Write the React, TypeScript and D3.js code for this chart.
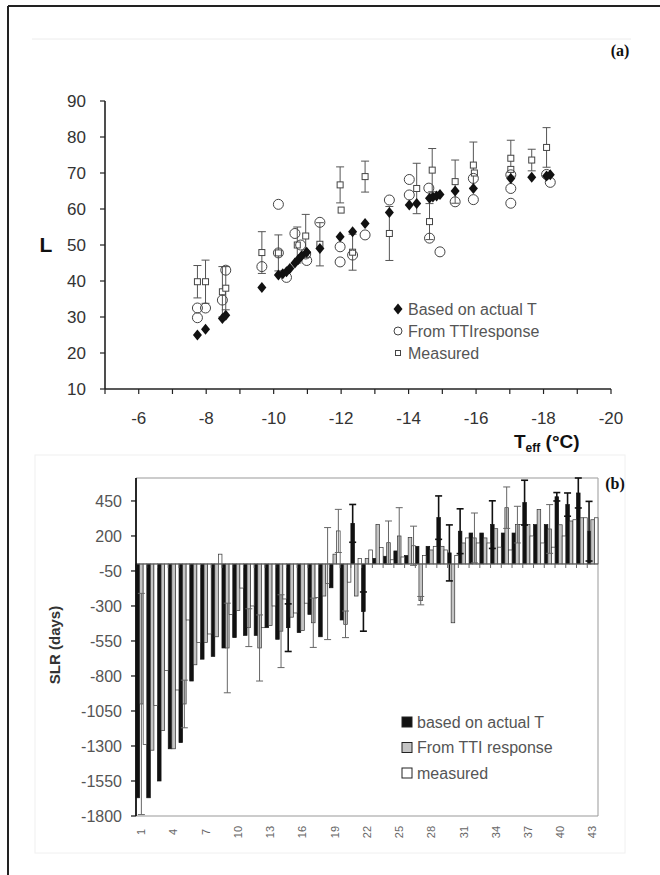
import React from 'react';
import * as d3 from 'd3';

// ---------- Panel (a) data ----------
const tempTicks = [-6, -8, -10, -12, -14, -16, -18, -20];
const lTicks = [10, 20, 30, 40, 50, 60, 70, 80, 90];

// [T_eff, L]
const actualT: [number, number][] = [
  [-7.74, 25], [-7.98, 26.6], [-8.48, 29.6], [-8.58, 30.5], [-9.65, 38.2], [-10.14, 41.7],
  [-10.27, 42], [-10.38, 42.6], [-10.48, 43.5], [-10.63, 45], [-10.73, 46], [-10.83, 47],
  [-10.98, 48], [-11.37, 49], [-11.97, 52.3], [-12.34, 53.7], [-12.71, 56], [-13.43, 59],
  [-14.02, 61.1], [-14.24, 61.5], [-14.62, 63], [-14.72, 63.3], [-14.83, 63.6], [-14.93, 64],
  [-15.38, 65], [-15.92, 65.7], [-17.03, 68.5], [-17.65, 68.8], [-18.09, 69.2], [-18.2, 69.5],
];

// [T_eff, L]
const ttiResp: [number, number][] = [
  [-7.74, 32.5], [-7.74, 29.8], [-7.98, 32.5], [-8.48, 34.7], [-8.58, 43], [-9.65, 44],
  [-10.14, 61.3], [-10.14, 47.8], [-10.38, 41], [-10.63, 53.2], [-10.8, 50], [-10.95, 47.5],
  [-10.98, 45.7], [-11.37, 56.3], [-11.97, 49.5], [-11.97, 45.3], [-12.34, 47.2], [-12.71, 52.8],
  [-13.43, 62.5], [-14.02, 68.2], [-14.02, 63.9], [-14.62, 51.9], [-14.93, 48.1], [-14.6, 65.8],
  [-15.38, 62], [-15.92, 68.5], [-15.92, 62.6], [-17.03, 65.7], [-17.03, 61.6], [-17.03, 69.5],
  [-18.09, 69.6], [-18.2, 67.4],
];

// [T_eff, L, error]
const measured: [number, number, number][] = [
  [-7.74, 39.8, 4.5], [-7.98, 39.8, 6], [-8.48, 37, 7], [-8.58, 38, 6], [-9.65, 47.9, 5.8],
  [-10.14, 47.8, 5], [-10.7, 50, 5], [-10.95, 52.5, 6], [-11.37, 50.2, 6], [-11.97, 66.7, 5],
  [-12.0, 59.7, 0], [-12.34, 48, 5], [-12.71, 69, 4.3], [-13.43, 53.2, 7.5], [-14.24, 65.7, 7],
  [-14.7, 70.8, 6], [-14.62, 56.5, 5], [-15.38, 67.6, 6], [-15.92, 72.2, 6.4], [-15.95, 70, 0],
  [-17.03, 74.1, 5], [-17.03, 71, 0], [-17.65, 73.6, 3], [-18.09, 77.1, 5.5],
];

const legendA = ['Based on actual T', 'From TTIresponse', 'Measured'];

// ---------- Panel (b) data ----------
const slrCategories = [
  '1', '2', '3', '4', '5', '6', '7', '8', '9', '10', '11', '12', '13', '14', '15', '16', '17', '18',
  '19', '20', '21', '22', '23', '24', '25', '26', '27', '28', '29', '30', '31', '32', '33', '34',
  '35', '36', '37', '38', '39', '40', '41', '42', '43',
];
const slrTickLabels = ['1', '4', '7', '10', '13', '16', '19', '22', '25', '28', '31', '34', '37', '40', '43'];
const slrTicks = [450, 200, -50, -300, -550, -800, -1050, -1300, -1550, -1800];

const slrActual = [
  -1670, -1670, -1550, -1320, -1276, -836, -680, -660, -600, -526, -510, -510, -455, -538, -455,
  -490, -360, -520, -170, -400, 290, -340, 40, 55, 93, 60, 126, 126, 331, 79, 234, 221, 221, 281,
  221, 221, 438, 281, 281, 480, 424, 507, 234,
];
const slrTti = [
  -1000, -1330, -1190, -1320, -1000, -720, -560, -520, -600, -333, -455, -600, -440, -480, -380,
  -476, -420, -229, 70, -431, -229, 40, 283, 152, 200, 190, -262, 100, 126, -420, 150, 186, 186,
  252, 402, 281, 281, 390, 250, 280, 307, 330, 316,
];
const slrMeasured = [
  -1290, -1010, -760, -900, -400, -560, -500, 70, -360, -172, -300, -455, -300, -250, -350, -280,
  -240, -140, 236, -130, 40, 100, 117, 30, 50, 130, 60, 126, 100, 60, 186, 150, 150, 120, 100, 281,
  200, 150, 120, 200, 316, 330, 330,
];
const errActual = [
  0, 0, 0, 0, 0, 0, 0, 0, 0, 0, 0, 0, 0, 0, 170, 0, 0, 0, 0, 0, 135, 140, 0, 0, 0, 0, 0, 0, 155,
  200, 160, 0, 0, 170, 0, 0, 160, 0, 0, 30, 83, 107, 213,
];
const errTti = [
  790, 0, 0, 0, 170, 0, 0, 0, 320, 0, 135, 236, 0, 260, 0, 0, 176, 0, 0, 95, 0, 0, 0, 155, 202, 0,
  30, 0, 0, 0, 0, 178, 0, 0, 148, 131, 0, 0, 174, 0, 0, 0, 0,
];
const errMeasured = [
  0, 0, 0, 0, 0, 0, 0, 0, 0, 0, 0, 0, 0, 0, 0, 0, 0, 400, 154, 0, 0, 0, 0, 0, 0, 140, 0, 0, 0, 0,
  0, 0, 0, 0, 0, 0, 0, 0, 0, 0, 0, 0, 0,
];
const legendB = ['based on actual T', 'From TTI response', 'measured'];

const FONT = 'Liberation Sans, Arial, sans-serif';

export default function App() {
  // ----- scales panel (a)
  const xA = d3.scaleLinear().domain([-5, -20]).range([105, 611]);
  const yA = d3.scaleLinear().domain([10, 90]).range([389, 101]);
  const minor = d3.range(-5, -20.5, -1);

  // ----- scales panel (b)
  const xB = d3.scaleBand<string>().domain(slrCategories).range([136, 598]).padding(0);
  const sub = d3.scaleBand<string>().domain(['a', 't', 'm']).range([0, xB.bandwidth()]).padding(0);
  const yB = d3.scaleLinear().domain([-1800, 614]).range([816, 478]);
  const y0 = yB(0);

  const diamond = (x: number, y: number) =>
    `M${x},${y - 5.5}L${x + 4.5},${y}L${x},${y + 5.5}L${x - 4.5},${y}Z`;

  const seriesB = [
    { key: 'a', vals: slrActual, errs: errActual, fill: '#111', stroke: '#111', ec: '#111', ew: 1.6 },
    { key: 't', vals: slrTti, errs: errTti, fill: '#c4c4c4', stroke: '#333', ec: '#666', ew: 1 },
    { key: 'm', vals: slrMeasured, errs: errMeasured, fill: '#fff', stroke: '#333', ec: '#666', ew: 1 },
  ];

  return (
    <svg width={660} height={875} style={{ position: 'absolute', left: 0, top: 0, background: '#fff' }}
      fontFamily={FONT}>
      <rect x={0} y={0} width={660} height={875} fill="#fff" />
      {/* outer frame */}
      <line x1={8} y1={6} x2={660} y2={6} stroke="#222" strokeWidth={2} />
      <line x1={8} y1={6} x2={8} y2={875} stroke="#222" strokeWidth={2} />

      {/* ================= Panel (a) ================= */}
      <line x1={32} y1={39} x2={631} y2={39} stroke="#ececec" strokeWidth={1} />
      <text x={620} y={56} textAnchor="middle" fontFamily="Liberation Serif, Times New Roman, serif"
        fontWeight="bold" fontSize={16} fill="#111">(a)</text>

      {/* y axis */}
      <line x1={105} y1={yA(90)} x2={105} y2={yA(10)} stroke="#222" strokeWidth={1.6} />
      {lTicks.map((t) => (
        <g key={'ly' + t}>
          <line x1={100} x2={105} y1={yA(t)} y2={yA(t)} stroke="#222" strokeWidth={1.2} />
          <text x={86} y={yA(t)} dy="0.35em" textAnchor="end" fontSize={17} fill="#333">{t}</text>
        </g>
      ))}
      {/* x axis */}
      <line x1={xA(-5)} y1={yA(10)} x2={xA(-20)} y2={yA(10)} stroke="#222" strokeWidth={1.6} />
      {minor.map((t) => (
        <line key={'mx' + t} x1={xA(t)} x2={xA(t)} y1={yA(10)} y2={yA(10) + 5} stroke="#222" strokeWidth={1.2} />
      ))}
      {tempTicks.map((t) => (
        <text key={'tx' + t} x={xA(t)} y={418} dy="0.35em" textAnchor="middle" fontSize={17} fill="#333">{t}</text>
      ))}
      <text x={46} y={252} textAnchor="middle" fontWeight="bold" fontSize={21} fill="#111">L</text>
      <text x={514} y={448} fontWeight="bold" fontSize={19} fill="#111">
        T<tspan fontSize={12} dy={4}>eff</tspan><tspan fontSize={19} dy={-4}> (°C)</tspan>
      </text>

      {/* measured error bars */}
      {measured.filter((d) => d[2] > 0).map((d, i) => (
        <g key={'me' + i} stroke="#555" strokeWidth={1}>
          <line x1={xA(d[0])} x2={xA(d[0])} y1={yA(d[1] - d[2])} y2={yA(d[1] + d[2])} />
          <line x1={xA(d[0]) - 4} x2={xA(d[0]) + 4} y1={yA(d[1] + d[2])} y2={yA(d[1] + d[2])} />
          <line x1={xA(d[0]) - 4} x2={xA(d[0]) + 4} y1={yA(d[1] - d[2])} y2={yA(d[1] - d[2])} />
        </g>
      ))}
      {/* measured squares */}
      {measured.map((d, i) => (
        <rect key={'ms' + i} x={xA(d[0]) - 3} y={yA(d[1]) - 3} width={6} height={6}
          fill="#fff" stroke="#444" strokeWidth={1} />
      ))}
      {/* TTI circles */}
      {ttiResp.map((d, i) => (
        <circle key={'tc' + i} cx={xA(d[0])} cy={yA(d[1])} r={5} fill="none" stroke="#444" strokeWidth={1} />
      ))}
      {/* actual T diamonds */}
      {actualT.map((d, i) => (
        <path key={'ad' + i} d={diamond(xA(d[0]), yA(d[1]))} fill="#111" />
      ))}

      {/* legend (a) */}
      {legendA.map((t, i) => {
        const ly = 309 + i * 22;
        return (
          <g key={'la' + i}>
            {i === 0 && <path d={diamond(398, ly)} fill="#111" />}
            {i === 1 && <circle cx={398} cy={ly} r={4} fill="none" stroke="#444" />}
            {i === 2 && <rect x={395.5} y={ly - 2.5} width={5} height={5} fill="#fff" stroke="#444" />}
            <text x={408} y={ly} dy="0.35em" fontSize={16} fill="#555">{t}</text>
          </g>
        );
      })}

      {/* ================= Panel (b) ================= */}
      <rect x={35} y={455} width={590} height={398} fill="none" stroke="#f0f0f0" />
      <text x={615} y={489} textAnchor="middle" fontFamily="Liberation Serif, Times New Roman, serif"
        fontWeight="bold" fontSize={16} fill="#111">(b)</text>

      {/* plot frame */}
      <line x1={136} y1={478} x2={598} y2={478} stroke="#999" strokeWidth={1.2} />
      <line x1={598} y1={478} x2={598} y2={816} stroke="#aaa" strokeWidth={1.2} />
      <line x1={136} y1={816} x2={598} y2={816} stroke="#999" strokeWidth={1.2} />

      {/* bars */}
      {seriesB.map((s) =>
        s.vals.map((v, i) => {
          const x = (xB(slrCategories[i]) as number) + (sub(s.key) as number);
          const w = sub.bandwidth();
          return (
            <rect key={s.key + i} x={x} width={w} y={Math.min(yB(v), y0)} height={Math.abs(yB(v) - y0)}
              fill={s.fill} stroke={s.stroke} strokeWidth={0.7} />
          );
        })
      )}
      {/* error bars */}
      {seriesB.map((s) =>
        s.vals.map((v, i) => {
          const e = s.errs[i];
          if (!e) return null;
          const cx = (xB(slrCategories[i]) as number) + (sub(s.key) as number) + sub.bandwidth() / 2;
          return (
            <g key={'e' + s.key + i} stroke={s.ec} strokeWidth={s.ew}>
              <line x1={cx} x2={cx} y1={yB(v - e)} y2={yB(v + e)} />
              <line x1={cx - 3.5} x2={cx + 3.5} y1={yB(v - e)} y2={yB(v - e)} />
              <line x1={cx - 3.5} x2={cx + 3.5} y1={yB(v + e)} y2={yB(v + e)} />
            </g>
          );
        })
      )}

      {/* category axis at zero */}
      <line x1={136} x2={598} y1={y0} y2={y0} stroke="#666" strokeWidth={1} />
      {slrCategories.map((c) => (
        <line key={'ct' + c} x1={xB(c) as number} x2={xB(c) as number} y1={y0} y2={y0 + 4} stroke="#666" />
      ))}

      {/* y axis (b) */}
      <line x1={136} y1={478} x2={136} y2={816} stroke="#111" strokeWidth={1.8} />
      {slrTicks.map((t) => (
        <g key={'sy' + t}>
          <line x1={131} x2={136} y1={yB(t)} y2={yB(t)} stroke="#111" strokeWidth={1.2} />
          <text x={122} y={yB(t)} dy="0.35em" textAnchor="end" fontSize={16} fill="#555">{t}</text>
        </g>
      ))}
      {slrTickLabels.map((c) => {
        const cx = (xB(c) as number) + xB.bandwidth() / 2;
        return (
          <text key={'sx' + c} transform={`translate(${cx},832) rotate(-90)`} textAnchor="middle"
            dy="0.35em" fontSize={11} fill="#666">{c}</text>
        );
      })}
      <text transform="translate(55,645) rotate(-90)" textAnchor="middle" dy="0.35em" fontWeight="bold"
        fontSize={15} fill="#333">SLR (days)</text>

      {/* legend (b) */}
      {legendB.map((t, i) => {
        const ly = 722 + i * 25.5;
        return (
          <g key={'lb' + i}>
            <rect x={402} y={ly - 5} width={10} height={10}
              fill={seriesB[i].fill} stroke="#222" strokeWidth={1} />
            <text x={417} y={ly} dy="0.35em" fontSize={16} fill="#555">{t}</text>
          </g>
        );
      })}
    </svg>
  );
}
